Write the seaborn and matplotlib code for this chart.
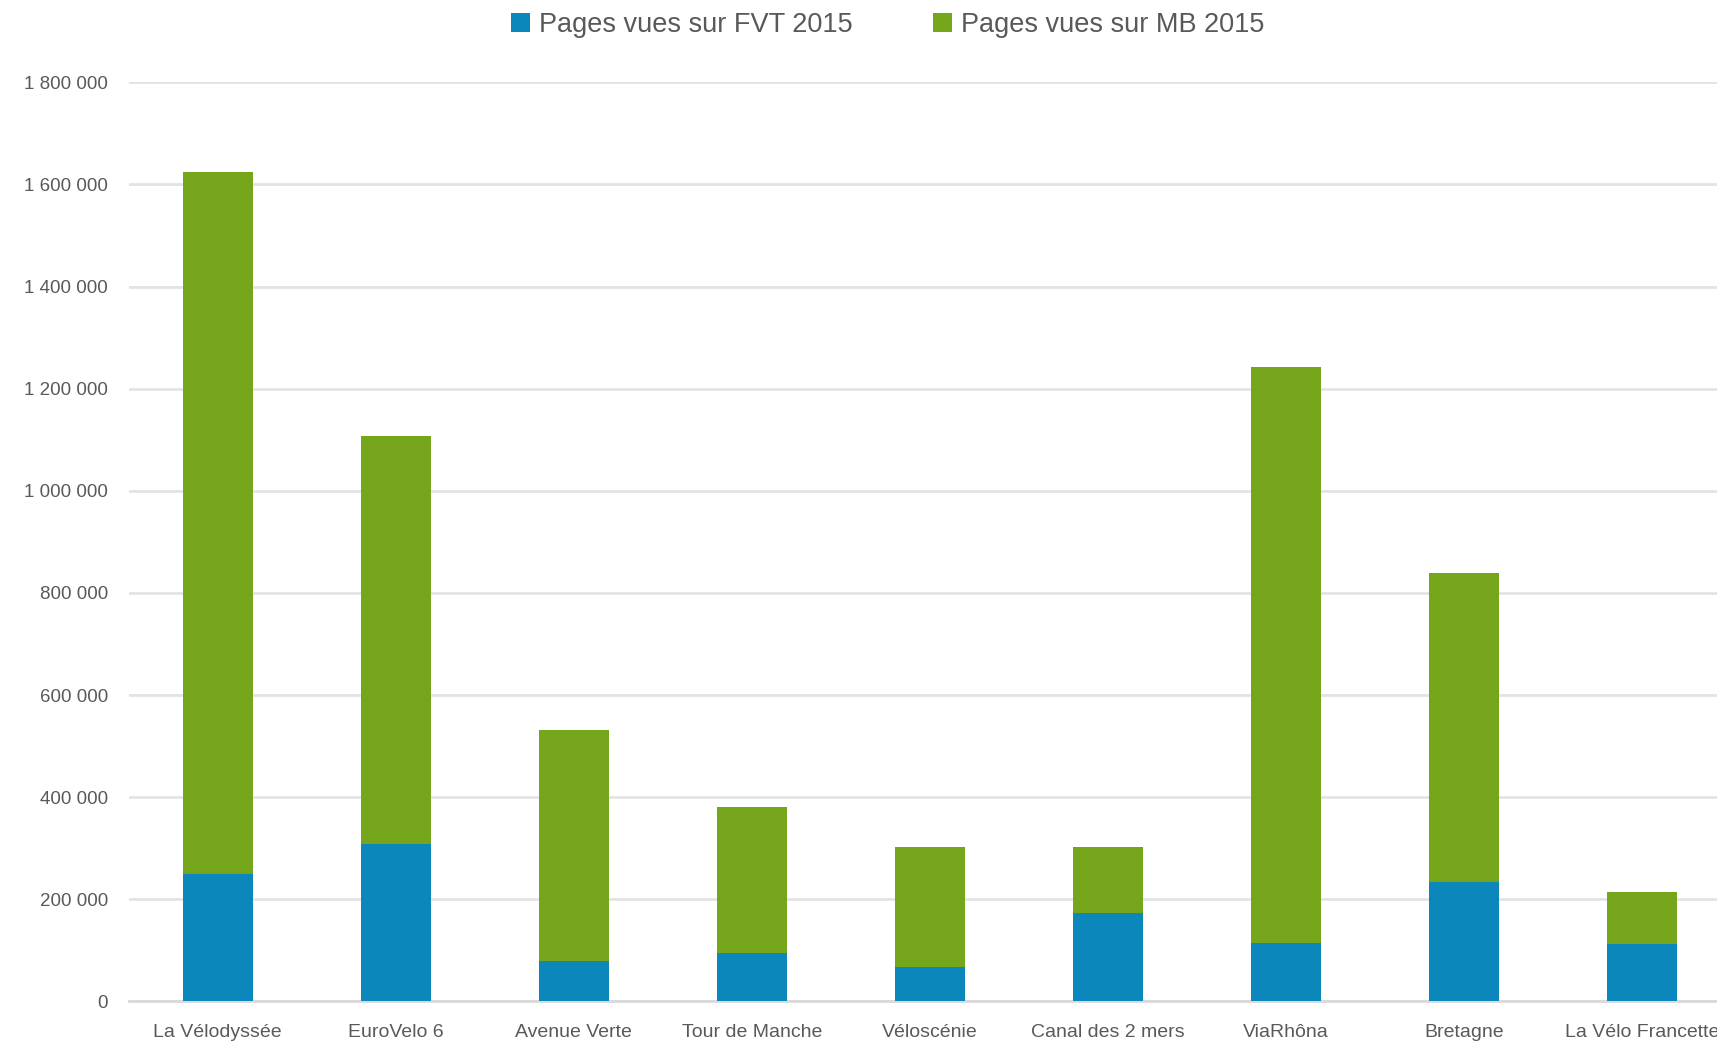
import matplotlib
matplotlib.use("Agg")
import matplotlib.pyplot as plt
import seaborn as sns
import pandas as pd
from matplotlib.ticker import FuncFormatter

categories = ["La Vélodyssée", "EuroVelo 6", "Avenue Verte", "Tour de Manche",
              "Véloscénie", "Canal des 2 mers", "ViaRhôna", "Bretagne", "La Vélo Francette"]
fvt_2015 = [249000, 309000, 79000, 94000, 67000, 174000, 114000, 234000, 112000]
mb_2015 = [1375000, 798000, 453000, 286000, 235000, 128000, 1128000, 605000, 103000]

series_names = ["Pages vues sur FVT 2015", "Pages vues sur MB 2015"]
blue = "#0B87BC"
green = "#75A51B"
grey_text = "#595959"

sns.set_theme(style="white")
plt.rcParams['font.family'] = ['Liberation Sans Narrow', 'Liberation Sans', 'DejaVu Sans']

df = pd.DataFrame({"cat": categories, "fvt": fvt_2015, "mb": mb_2015})

fig = plt.figure(figsize=(17.17, 10.42), dpi=100)
ax = fig.add_axes([0.075, 0.039, 0.925, 0.882])

sns.barplot(data=df, x="cat", y="mb", bottom=df["fvt"], color=green, width=0.39,
            saturation=1, ax=ax, label=series_names[1], zorder=3, linewidth=0)
sns.barplot(data=df, x="cat", y="fvt", color=blue, width=0.39,
            saturation=1, ax=ax, label=series_names[0], zorder=3, linewidth=0)

ax.set_ylim(0, 1800000)
ax.set_xlim(-0.5, 8.42)
ax.set_yticks(range(0, 1800001, 200000))
ax.yaxis.set_major_formatter(FuncFormatter(lambda v, p: f"{int(v):,}".replace(",", " ")))
ax.grid(axis="y", color="#E3E3E3", linewidth=2, zorder=0)
ax.set_axisbelow(True)
for s in ["top", "right", "left"]:
    ax.spines[s].set_visible(False)
ax.spines["bottom"].set_color("#D9D9D9")
ax.spines["bottom"].set_linewidth(2)
ax.set_xlabel("")
ax.set_ylabel("")
ax.tick_params(axis="y", labelsize=13.5, colors=grey_text, length=0, pad=15)
ax.tick_params(axis="x", labelsize=14, colors=grey_text, length=0, pad=16)

handles, labels = ax.get_legend_handles_labels()
order = [labels.index(n) for n in series_names]
leg = fig.legend([handles[i] for i in order], [labels[i] for i in order],
                 loc="center", bbox_to_anchor=(0.517, 0.976), ncol=2, frameon=False,
                 fontsize=19.5, handlelength=0.7, handleheight=0.7, columnspacing=3.0,
                 handletextpad=0.3)
for t in leg.get_texts():
    t.set_color(grey_text)
if ax.get_legend() is not None:
    ax.get_legend().remove()

fig.savefig("out.png", dpi=100)
